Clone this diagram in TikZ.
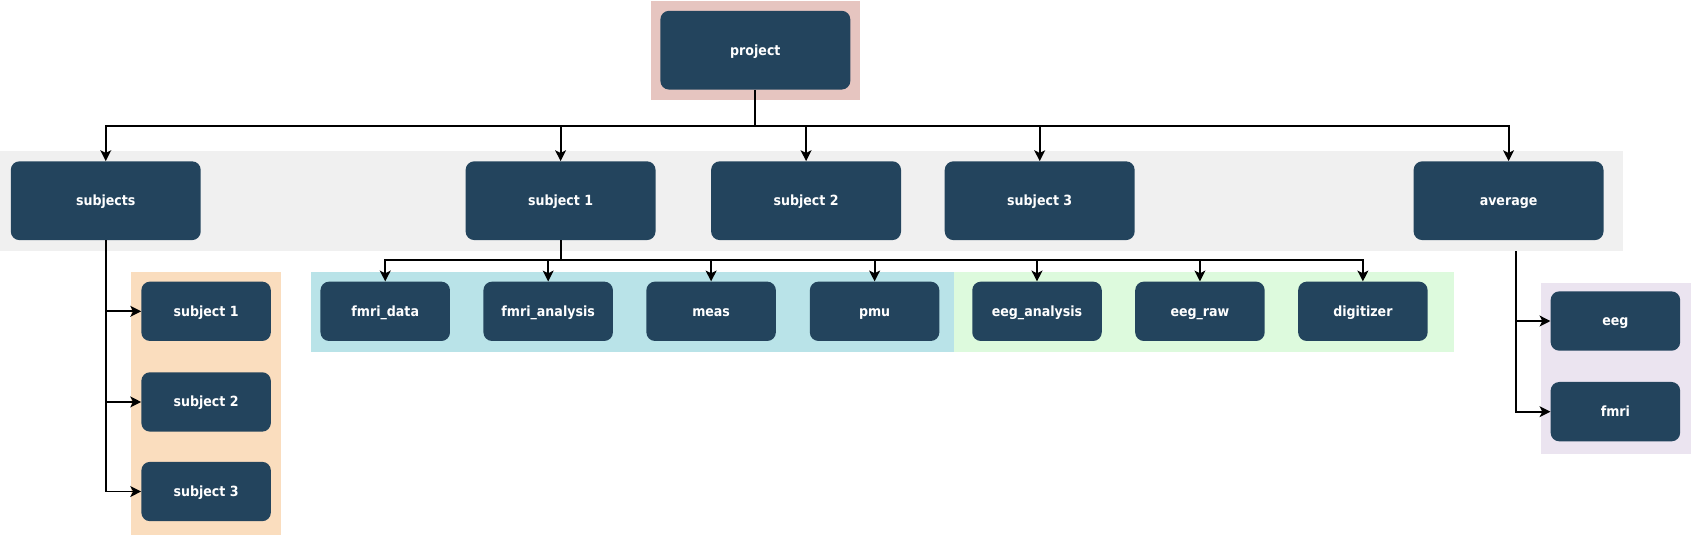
\documentclass[tikz,border=0pt]{standalone}
\usepackage{fontspec}
\setmainfont{DejaVu Sans Condensed}[BoldFont={DejaVu Sans Condensed Bold}]
\usetikzlibrary{arrows.meta}
\definecolor{nodeblue}{HTML}{23445D}
\definecolor{bgred}{HTML}{E6C5C0}
\definecolor{bggray}{HTML}{F0F0F0}
\definecolor{bgorange}{HTML}{FADDBE}
\definecolor{bgcyan}{HTML}{B9E3E8}
\definecolor{bggreen}{HTML}{DDFADD}
\definecolor{bgpurple}{HTML}{EBE4F0}
\begin{document}
\begin{tikzpicture}[x=1pt,y=-1pt,
  box/.style={fill=nodeblue,draw=none,rounded corners=8pt,text=white,font=\bfseries\fontsize{13}{15}\selectfont,inner sep=0pt,text height=9pt,text depth=0pt},
  bigbox/.style={box,minimum width=176pt,minimum height=73pt},
  smallbox/.style={box,minimum width=120pt,minimum height=55pt},
  conn/.style={draw=black,line width=1.8pt,-{Stealth[length=10pt,width=10pt,inset=2.5pt]}},
  plain/.style={draw=black,line width=1.8pt}]
\useasboundingbox (0,0) rectangle (1568,497);
% backgrounds
\fill[bgred] (603,1) rectangle (797,93);
\fill[bggray] (0,140) rectangle (1504,233);
\fill[bgorange] (121,252) rectangle (260,496);
\fill[bgcyan] (288,252) rectangle (884,326);
\fill[bggreen] (884,252) rectangle (1347,326);
\fill[bgpurple] (1428,262) rectangle (1567,421);
% nodes
\node[bigbox] (project) at (700,46.5) {project};
\node[bigbox] (subjects) at (98,186) {subjects};
\node[bigbox] (s1) at (519.5,186) {subject 1};
\node[bigbox] (s2) at (747,186) {subject 2};
\node[bigbox] (s3) at (963.5,186) {subject 3};
\node[bigbox] (avg) at (1398,186) {average};
\node[smallbox] (ss1) at (191,288.5) {subject 1};
\node[smallbox] (ss2) at (191,372.5) {subject 2};
\node[smallbox] (ss3) at (191,455.5) {subject 3};
\node[smallbox] (fd) at (357,288.5) {fmri\_data};
\node[smallbox] (fa) at (508,288.5) {fmri\_analysis};
\node[smallbox] (meas) at (659,288.5) {meas};
\node[smallbox] (pmu) at (810.5,288.5) {pmu};
\node[smallbox] (ea) at (961,288.5) {eeg\_analysis};
\node[smallbox] (er) at (1112,288.5) {eeg\_raw};
\node[smallbox] (dig) at (1263,288.5) {digitizer};
\node[smallbox] (eeg) at (1497,297.5) {eeg};
\node[smallbox] (fmri) at (1497,381.5) {fmri};
% connectors from project
\coordinate (pj) at (700,117);
\draw[plain] (project.south) -- (pj);
\foreach \n in {subjects,s1,s2,s3,avg}
  \draw[conn] (pj) -| (\n.north);
% subjects
\foreach \n in {ss1,ss2,ss3}
  \draw[conn] (subjects.south) |- (\n.west);
% subject 1 children
\coordinate (s1j) at (519.5,241);
\draw[plain] (s1.south) -- (s1j);
\foreach \n in {fd,fa,meas,pmu,ea,er,dig}
  \draw[conn] (s1j) -| (\n.north);
% average
\coordinate (avj) at (1405,233);
\foreach \n in {eeg,fmri}
  \draw[conn] (avj) |- (\n.west);
\end{tikzpicture}
\end{document}
